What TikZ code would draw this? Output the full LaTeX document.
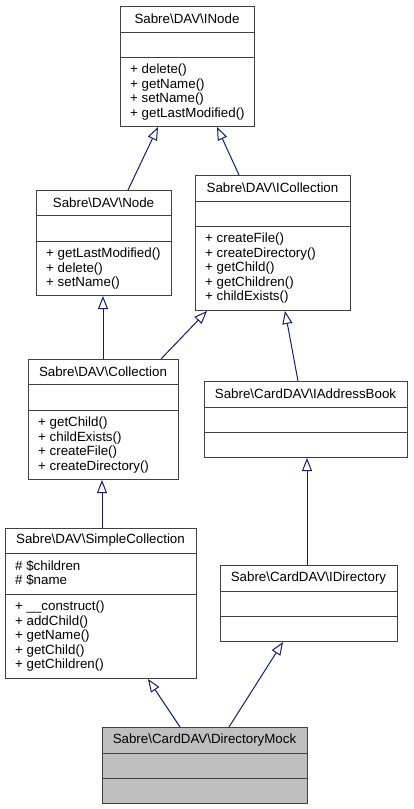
\documentclass[tikz,border=0pt]{standalone}
\usepackage{fontspec}
\setmainfont{Liberation Sans}
\usetikzlibrary{arrows.meta}
\definecolor{edgeblue}{HTML}{191970}
\definecolor{boxline}{HTML}{404040}
\definecolor{mockfill}{HTML}{BFBFBF}
\tikzset{
  clsbox/.style={draw=boxline, line width=1pt, inner sep=0pt, anchor=north west},
  clsline/.style={draw=boxline, line width=1pt},
  clstitle/.style={inner sep=0pt, font=\fontsize{13.33}{14.5}\selectfont},
  members/.style={inner sep=0pt, anchor=north west, align=left, font=\fontsize{13.33}{14.5}\selectfont},
  inherit/.style={draw=edgeblue, line width=1pt, -{Triangle[open, length=13pt, width=10pt]}}
}
\newcommand{\umlclass}[9]{%
  \node[clsbox, fill=#9, minimum width={#4pt-#2pt}, minimum height={#5pt-#3pt}] (#1) at (#2,#3) {};
  \draw[clsline] (#2,#6) -- (#4,#6);
  \draw[clsline] (#2,#7) -- (#4,#7);
  \node[clstitle] (#1-t) at ({(#2+#4)/2},{(#3+#6)/2}) {#8};
}
\begin{document}
\begin{tikzpicture}[x=1pt,y=-1pt]
\useasboundingbox (0,0) rectangle (413,809);
% classes
\umlclass{inode}{120}{6}{254}{126}{32}{57}{Sabre\textbackslash DAV\textbackslash INode}{white}
\node[members] (inode-m) at (130,64) {+ delete()\\+ getName()\\+ setName()\\+ getLastModified()};

\umlclass{node}{36}{190}{171}{295}{215}{241}{Sabre\textbackslash DAV\textbackslash Node}{white}
\node[members] (node-m) at (46,248) {+ getLastModified()\\+ delete()\\+ setName()};

\umlclass{icoll}{195}{175}{350}{310}{201}{226}{Sabre\textbackslash DAV\textbackslash ICollection}{white}
\node[members] (icoll-m) at (205,233) {+ createFile()\\+ createDirectory()\\+ getChild()\\+ getChildren()\\+ childExists()};

\umlclass{coll}{28}{359}{178}{479}{384}{410}{Sabre\textbackslash DAV\textbackslash Collection}{white}
\node[members] (coll-m) at (38,417) {+ getChild()\\+ childExists()\\+ createFile()\\+ createDirectory()};

\umlclass{iab}{204}{381}{407}{457}{407}{432}{Sabre\textbackslash CardDAV\textbackslash IAddressBook}{white}

\umlclass{scoll}{5}{528}{196}{678}{553}{594}{Sabre\textbackslash DAV\textbackslash SimpleCollection}{white}
\node[members] (scoll-a) at (15,560) {\# \$children\\\# \$name};
\node[members] (scoll-m) at (15,601) {+ \_\_construct()\\+ addChild()\\+ getName()\\+ getChild()\\+ getChildren()};

\umlclass{idir}{220}{565}{397}{641}{591}{616}{Sabre\textbackslash CardDAV\textbackslash IDirectory}{white}

\umlclass{mock}{102}{727}{307}{803}{753}{778}{Sabre\textbackslash CardDAV\textbackslash DirectoryMock}{mockfill}

% inheritance edges (child -> parent)
\draw[inherit] ([xshift=92pt]node.north west) -- ([xshift=38pt]inode.south west);
\draw[inherit] ([xshift=44pt]icoll.north west) -- ([xshift=97pt]inode.south west);
\draw[inherit] ([xshift=75pt]coll.north west) -- ([xshift=67pt]node.south west);
\draw[inherit] ([xshift=133pt]coll.north west) -- ([xshift=12pt]icoll.south west);
\draw[inherit] ([xshift=94pt]iab.north west) -- ([xshift=90pt]icoll.south west);
\draw[inherit] ([xshift=97pt]scoll.north west) -- ([xshift=74pt]coll.south west);
\draw[inherit] ([xshift=87pt]idir.north west) -- ([xshift=103pt]iab.south west);
\draw[inherit] ([xshift=78pt]mock.north west) -- ([xshift=143pt]scoll.south west);
\draw[inherit] ([xshift=127pt]mock.north west) -- ([xshift=63pt]idir.south west);
\end{tikzpicture}
\end{document}
